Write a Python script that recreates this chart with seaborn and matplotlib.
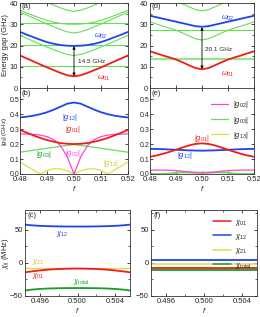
import matplotlib
matplotlib.use("Agg")
import matplotlib.pyplot as plt
import seaborn as sns
import numpy as np
from matplotlib.lines import Line2D

sns.set_theme(style="ticks")
plt.rcParams["font.family"] = ["Liberation Sans", "DejaVu Sans"]
plt.rcParams["mathtext.fontset"] = "custom"
plt.rcParams["mathtext.rm"] = "Liberation Sans"
plt.rcParams["mathtext.it"] = "Liberation Sans:italic"
plt.rcParams["mathtext.bf"] = "Liberation Sans:bold"

# ---------------- data ----------------
f_top = [0.48, 0.4825, 0.485, 0.4875, 0.49, 0.4925, 0.495, 0.4975, 0.50,
         0.5025, 0.505, 0.5075, 0.51, 0.5125, 0.515, 0.5175, 0.52]

# panel (a) energy gaps (GHz)
a_w01 = [15.3, 13.9, 12.5, 11.1, 9.7, 8.4, 7.1, 6.0, 5.5, 6.0, 7.1, 8.4, 9.7, 11.1, 12.5, 13.9, 15.3]
a_w02 = [26.4, 25.1, 23.9, 22.7, 21.6, 20.8, 20.2, 19.9, 19.8, 19.9, 20.2, 20.8, 21.6, 22.7, 23.9, 25.1, 26.4]
a_g1 = [24.8, 23.4, 22.0, 20.6, 19.3, 18.0, 16.8, 15.8, 15.3, 15.8, 16.8, 18.0, 19.3, 20.6, 22.0, 23.4, 24.8]
a_g2 = [35.7, 34.3, 32.9, 31.5, 30.1, 28.8, 27.5, 26.4, 25.9, 26.4, 27.5, 28.8, 30.1, 31.5, 32.9, 34.3, 35.7]
a_g3 = [45.9, 44.5, 43.1, 41.7, 40.3, 39.0, 37.7, 36.6, 36.1, 36.6, 37.7, 39.0, 40.3, 41.7, 43.1, 44.5, 45.9]
a_g4 = [36.6, 35.3, 34.1, 32.9, 31.8, 31.0, 30.4, 30.1, 30.0, 30.1, 30.4, 31.0, 31.8, 32.9, 34.1, 35.3, 36.6]
a_flat = [10.2, 20.3, 30.5]

# panel (d) energy gaps (GHz)
d_w01 = [17.3, 16.3, 15.3, 14.4, 13.4, 12.1, 10.7, 9.4, 8.8, 9.4, 10.7, 12.1, 13.4, 14.4, 15.3, 16.3, 17.3]
d_w02 = [34.0, 33.3, 32.6, 31.9, 31.2, 30.5, 29.8, 29.1, 28.8, 29.1, 29.8, 30.5, 31.2, 31.9, 32.6, 33.3, 34.0]
d_g1 = [31.1, 30.1, 29.1, 28.2, 27.2, 25.9, 24.5, 23.2, 22.6, 23.2, 24.5, 25.9, 27.2, 28.2, 29.1, 30.1, 31.1]
d_g2 = [44.8, 43.8, 42.8, 41.9, 40.9, 39.6, 38.2, 36.9, 36.3, 36.9, 38.2, 39.6, 40.9, 41.9, 42.8, 43.8, 44.8]
d_flat = [13.8, 27.5]

# panel (b) couplings (GHz)
b_g12 = [0.378, 0.383, 0.390, 0.400, 0.413, 0.430, 0.450, 0.470, 0.478, 0.470, 0.450, 0.430, 0.413, 0.400, 0.390, 0.383, 0.378]
b_g01 = [0.295, 0.276, 0.258, 0.241, 0.227, 0.216, 0.207, 0.202, 0.200, 0.202, 0.207, 0.216, 0.227, 0.241, 0.258, 0.276, 0.295]
b_g02 = [0.268, 0.267, 0.265, 0.260, 0.250, 0.230, 0.190, 0.115, 0.0, 0.115, 0.190, 0.230, 0.250, 0.260, 0.265, 0.267, 0.268]
b_g03 = [0.146, 0.152, 0.159, 0.165, 0.172, 0.178, 0.185, 0.191, 0.197, 0.191, 0.185, 0.178, 0.172, 0.165, 0.159, 0.152, 0.146]
b_g13 = [0.080, 0.053, 0.027, 0.0, 0.024, 0.035, 0.034, 0.022, 0.0, 0.022, 0.034, 0.035, 0.024, 0.0, 0.027, 0.053, 0.080]

# panel (e) couplings (GHz)
e_g01 = [0.115, 0.124, 0.135, 0.148, 0.162, 0.177, 0.191, 0.201, 0.205, 0.201, 0.191, 0.177, 0.162, 0.148, 0.135, 0.124, 0.115]
e_g12 = [0.168, 0.167, 0.166, 0.164, 0.162, 0.160, 0.158, 0.157, 0.156, 0.157, 0.158, 0.160, 0.162, 0.164, 0.166, 0.167, 0.168]
e_g02 = [0.026, 0.026, 0.026, 0.025, 0.023, 0.019, 0.013, 0.008, 0.006, 0.008, 0.013, 0.019, 0.023, 0.025, 0.026, 0.026, 0.026]
e_g03 = [0.0, 0.0, 0.0, 0.002, 0.009, 0.011, 0.011, 0.010, 0.009, 0.010, 0.011, 0.011, 0.009, 0.002, 0.0, 0.0, 0.0]
e_g13 = [0.001] * 17

# panels (c), (f) dispersive shifts (MHz)
f_bot = [0.494, 0.495, 0.496, 0.497, 0.498, 0.499, 0.500, 0.501, 0.502, 0.503, 0.504, 0.505, 0.506]
c_x12 = [58.5, 57.0, 56.0, 55.5, 55.2, 55.0, 55.0, 55.0, 55.2, 55.5, 56.0, 57.0, 58.5]
c_x21 = [-8.0] * 13
c_x01 = [-15.0, -13.0, -11.3, -10.0, -9.2, -8.7, -8.5, -8.7, -9.2, -10.0, -11.3, -13.0, -15.0]
c_xtot = [-42.5, -40.5, -39.3, -38.6, -38.2, -38.0, -38.0, -38.0, -38.2, -38.6, -39.3, -40.5, -42.5]
f_x01 = [-7.5] * 13
f_x12 = [4.0] * 13
f_x21 = [-1.5] * 13
f_xtot = [-10.0] * 13

# ---------------- style ----------------
RED = "#f21a1a"
BLUE = "#1f44ee"
GREEN = "#66dd55"
DGREEN = "#14a026"
MAG = "#ff44d4"
YEL = "#dede44"
FS = 5.5
FSS = 4.6

W, H = 260, 317
fig = plt.figure(figsize=(W / 100, H / 100), dpi=100)

BOX = {}


def axbox(l, r, t, b):
    ax = fig.add_axes([l / W, 1 - b / H, (r - l) / W, (b - t) / H])
    BOX[ax] = (l, r)
    return ax


ax_a = axbox(20, 128, 3, 88)
ax_b = axbox(20, 128, 88, 174)
ax_c = axbox(25, 130, 210, 296)
ax_d = axbox(150, 254, 3, 88)
ax_e = axbox(150, 254, 88, 174)
ax_f = axbox(151, 257, 210, 296)


def line(ax, x, y, c, lw, **kw):
    sns.lineplot(x=x, y=y, ax=ax, color=c, lw=lw, estimator=None, legend=False, **kw)


def style(ax):
    ax.tick_params(direction="in", top=True, right=True, labelsize=FS, length=2.5,
                   width=0.6, pad=1.5, which="major")
    ax.tick_params(direction="in", top=True, right=True, length=1.3, width=0.5, which="minor")
    for s in ax.spines.values():
        s.set_linewidth(0.6)
        s.set_color("#333333")
    ax.set_xlabel("")
    ax.set_ylabel("")


YLABS = []


def ylab(ax, text, fs):
    ax.set_ylabel(text, fontsize=fs)
    ax.yaxis.set_label_coords(-0.1, 0.5)
    YLABS.append(ax)


# ---- (a)
for g in [a_g1, a_g2, a_g3, a_g4]:
    line(ax_a, f_top, g, GREEN, 0.8)
for v in a_flat:
    line(ax_a, f_top, [v] * len(f_top), GREEN, 0.8)
line(ax_a, f_top, a_w02, BLUE, 1.3)
line(ax_a, f_top, a_w01, RED, 1.3)
ax_a.set_xlim(0.48, 0.52)
ax_a.set_ylim(0, 40)
ax_a.set_yticks([0, 10, 20, 30, 40])
ax_a.set_yticks(np.arange(5, 40, 10), minor=True)
ax_a.set_xticks([0.48, 0.49, 0.50, 0.51, 0.52])
style(ax_a)
ax_a.tick_params(labelbottom=False)
ax_a.annotate("", xy=(0.50, 5.6), xytext=(0.50, 19.7),
              arrowprops=dict(arrowstyle="<|-|>", color="black", lw=0.6,
                              mutation_scale=4, shrinkA=0, shrinkB=0))
ax_a.text(0.5014, 12.3, "14.5 GHz", fontsize=FSS, ha="left", va="center")
ax_a.text(0.5075, 24.3, r"$\omega_{02}$", color=BLUE, fontsize=FS, ha="left", va="center")
ax_a.text(0.5085, 4.3, r"$\omega_{01}$", color=RED, fontsize=FS, ha="left", va="center")
ax_a.text(0.4805, 38.2, "(a)", fontsize=FS, ha="left", va="center")
ylab(ax_a, "Energy gap (GHz)", 5.5)

# ---- (d)
for g in [d_g1, d_g2]:
    line(ax_d, f_top, g, GREEN, 0.8)
line(ax_d, f_top, [d_flat[0]] * len(f_top), "#99e68a", 1.6)
line(ax_d, f_top, [d_flat[1]] * len(f_top), GREEN, 0.8)
line(ax_d, f_top, d_w02, BLUE, 1.3)
line(ax_d, f_top, d_w01, RED, 1.3)
ax_d.set_xlim(0.48, 0.52)
ax_d.set_ylim(0, 40)
ax_d.set_yticks([0, 10, 20, 30, 40])
ax_d.set_yticks(np.arange(5, 40, 10), minor=True)
ax_d.set_xticks([0.48, 0.49, 0.50, 0.51, 0.52])
style(ax_d)
ax_d.tick_params(labelbottom=False)
ax_d.annotate("", xy=(0.50, 8.9), xytext=(0.50, 28.6),
              arrowprops=dict(arrowstyle="<|-|>", color="black", lw=0.6,
                              mutation_scale=4, shrinkA=0, shrinkB=0))
ax_d.text(0.5012, 18.2, "20.1 GHz", fontsize=FSS, ha="left", va="center")
ax_d.text(0.5072, 32.6, r"$\omega_{02}$", color=BLUE, fontsize=FS, ha="left", va="center")
ax_d.text(0.5072, 6.4, r"$\omega_{01}$", color=RED, fontsize=FS, ha="left", va="center")
ax_d.text(0.4805, 38.2, "(d)", fontsize=FS, ha="left", va="center")

# ---- (b)
line(ax_b, f_top, b_g13, YEL, 0.9)
line(ax_b, f_top, b_g03, GREEN, 0.9)
line(ax_b, f_top, b_g02, MAG, 0.9)
line(ax_b, f_top, b_g01, RED, 1.3)
line(ax_b, f_top, b_g12, BLUE, 1.3)
ax_b.set_xlim(0.48, 0.52)
ax_b.set_ylim(0, 0.575)
ax_b.set_yticks([0.0, 0.1, 0.2, 0.3, 0.4, 0.5])
ax_b.set_yticklabels(["0.0", "0.1", "0.2", "0.3", "0.4", "0.5"])
ax_b.set_xticks([0.48, 0.49, 0.50, 0.51, 0.52])
ax_b.set_xticklabels(["0.48", "0.49", "0.50", "0.51", "0.52"])
style(ax_b)
ax_b.tick_params(axis="y", pad=0.5, labelsize=5.0)
ax_b.text(0.4805, 0.535, "(b)", fontsize=FS, ha="left", va="center")
ax_b.text(0.4985, 0.378, r"$|g_{12}|$", color=BLUE, fontsize=FS, ha="center", va="center")
ax_b.text(0.4995, 0.300, r"$|g_{01}|$", color=RED, fontsize=FS, ha="center", va="center")
ax_b.text(0.4995, 0.138, r"$|g_{02}|$", color=MAG, fontsize=FS, ha="center", va="center")
ax_b.text(0.4887, 0.130, r"$|g_{03}|$", color=DGREEN, fontsize=FS, ha="center", va="center")
ax_b.text(0.5137, 0.070, r"$|g_{13}|$", color="#c8c830", fontsize=FS, ha="center", va="center")
ylab(ax_b, r"|$g_{ij}$| (GHz)", 4.6)
ax_b.set_xlabel(r"$f$", fontsize=FS, labelpad=1)

# ---- (e)
line(ax_e, f_top, e_g13, YEL, 0.9)
line(ax_e, f_top, e_g03, GREEN, 1.4)
line(ax_e, f_top, e_g02, MAG, 0.9)
line(ax_e, f_top, e_g12, BLUE, 1.3)
line(ax_e, f_top, e_g01, RED, 1.3)
ax_e.set_xlim(0.48, 0.52)
ax_e.set_ylim(0, 0.575)
ax_e.set_yticks([0.0, 0.1, 0.2, 0.3, 0.4, 0.5])
ax_e.set_yticklabels(["0.0", "0.1", "0.2", "0.3", "0.4", "0.5"])
ax_e.set_xticks([0.48, 0.49, 0.50, 0.51, 0.52])
ax_e.set_xticklabels(["0.48", "0.49", "0.50", "0.51", "0.52"])
style(ax_e)
ax_e.tick_params(axis="y", pad=0.5, labelsize=5.0)
h_e = [Line2D([], [], color=MAG, lw=0.9), Line2D([], [], color=GREEN, lw=0.9),
       Line2D([], [], color=YEL, lw=0.9)]
ax_e.legend(h_e, [r"$|g_{02}|$", r"$|g_{03}|$", r"$|g_{13}|$"], loc="upper right",
            frameon=False, fontsize=FS, handlelength=2.3, handletextpad=0.6,
            labelspacing=0.55, borderaxespad=0.3, bbox_to_anchor=(1.0, 0.93))
ax_e.text(0.4805, 0.535, "(e)", fontsize=FS, ha="left", va="center")
ax_e.text(0.5000, 0.240, r"$|g_{01}|$", color=RED, fontsize=FS, ha="center", va="center")
ax_e.text(0.4935, 0.122, r"$|g_{12}|$", color=BLUE, fontsize=FS, ha="center", va="center")
ax_e.set_xlabel(r"$f$", fontsize=FS, labelpad=1)

# ---- (c)
line(ax_c, f_bot, c_x21, YEL, 0.9)
line(ax_c, f_bot, c_x01, RED, 1.3)
line(ax_c, f_bot, c_xtot, DGREEN, 1.3)
line(ax_c, f_bot, c_x12, BLUE, 1.3)
ax_c.set_xlim(0.4944, 0.5056)
ax_c.set_ylim(-50, 80)
ax_c.set_yticks([-50, 0, 50])
ax_c.set_yticks([-25, 25, 75], minor=True)
ax_c.set_xticks([0.496, 0.500, 0.504])
ax_c.set_xticklabels(["0.496", "0.500", "0.504"])
ax_c.set_xticks([0.498, 0.502], minor=True)
style(ax_c)
ax_c.text(0.4947, 72, "(c)", fontsize=FS, ha="left", va="center")
ax_c.text(0.4984, 43, r"$\chi_{12}$", color=BLUE, fontsize=FS, ha="center", va="center")
ax_c.text(0.4958, 1.5, r"$\chi_{21}$", color="#c8c830", fontsize=FS, ha="center", va="center")
ax_c.text(0.4958, -20, r"$\chi_{01}$", color=RED, fontsize=FS, ha="center", va="center")
ax_c.text(0.5004, -29, r"$\chi_{\rm total}$", color=DGREEN, fontsize=FS, ha="center", va="center")
ylab(ax_c, r"$\chi_{ij}$ (MHz)", 5.4)
ax_c.set_xlabel(r"$f$", fontsize=FS, labelpad=1)

# ---- (f)
line(ax_f, f_bot, f_x21, YEL, 1.1)
line(ax_f, f_bot, f_x12, BLUE, 1.3)
line(ax_f, f_bot, f_x01, RED, 1.3)
line(ax_f, f_bot, f_xtot, DGREEN, 1.3)
ax_f.set_xlim(0.4944, 0.5056)
ax_f.set_ylim(-50, 80)
ax_f.set_yticks([-50, 0, 50])
ax_f.set_yticks([-25, 25, 75], minor=True)
ax_f.set_xticks([0.496, 0.500, 0.504])
ax_f.set_xticklabels(["0.496", "0.500", "0.504"])
ax_f.set_xticks([0.498, 0.502], minor=True)
style(ax_f)
h_f = [Line2D([], [], color=RED, lw=1.1), Line2D([], [], color=BLUE, lw=1.1),
       Line2D([], [], color=YEL, lw=1.1), Line2D([], [], color=DGREEN, lw=1.1)]
ax_f.legend(h_f, [r"$\chi_{01}$", r"$\chi_{12}$", r"$\chi_{21}$", r"$\chi_{\rm total}$"],
            loc="upper right", frameon=False, fontsize=FS, handlelength=2.3,
            handletextpad=0.6, labelspacing=0.55, borderaxespad=0.3,
            bbox_to_anchor=(1.0, 0.97))
ax_f.text(0.4947, 72, "(f)", fontsize=FS, ha="left", va="center")
ax_f.set_xlabel(r"$f$", fontsize=FS, labelpad=1)

# place each y label just left of its tick labels, but never past the figure's left edge
fig.canvas.draw()
rend = fig.canvas.get_renderer()
for ax in YLABS:
    tl = [t.get_window_extent(rend).x0 for t in ax.get_yticklabels() if t.get_text()]
    lab = ax.yaxis.label
    bb = lab.get_window_extent(rend)
    target_right = min(tl) - 0.3
    if target_right - bb.width < 0.4:
        target_right = 0.4 + bb.width
    inv = ax.transAxes.inverted()
    dx = inv.transform((target_right, 0))[0] - inv.transform((bb.x1, 0))[0]
    ax.yaxis.set_label_coords(-0.1 + dx, 0.5)

fig.savefig("out.png", dpi=100)
